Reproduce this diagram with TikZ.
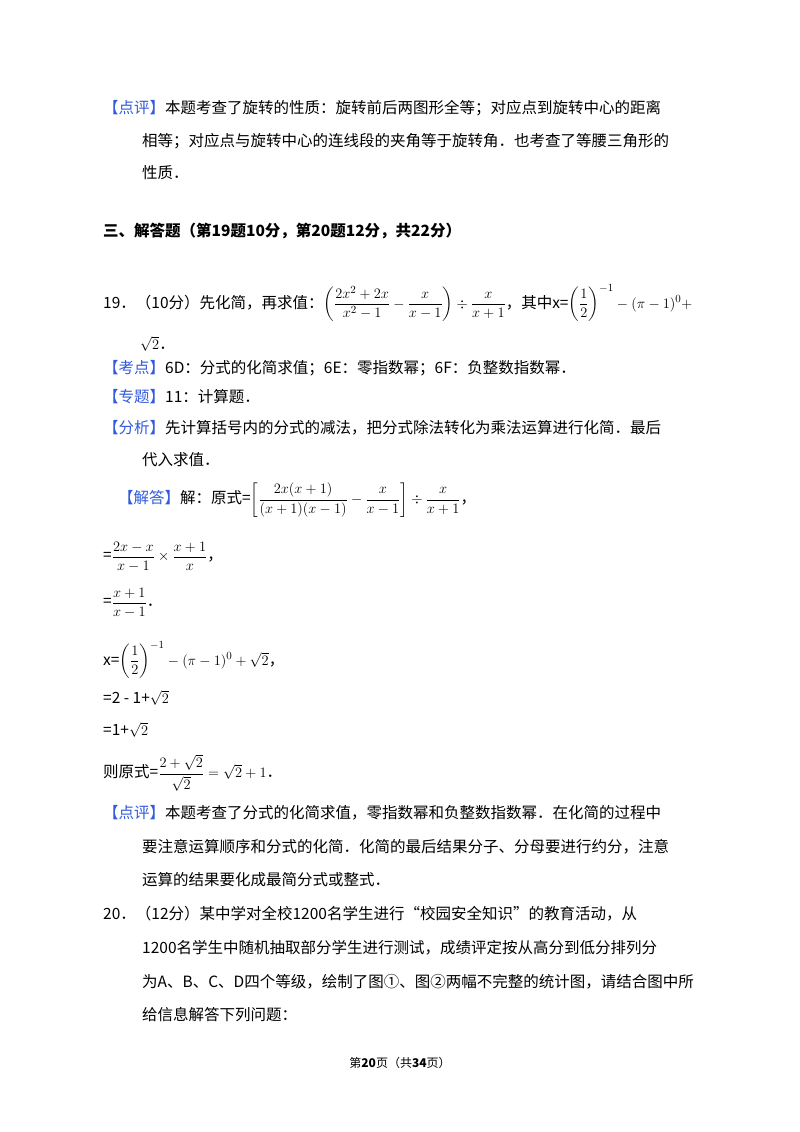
\documentclass[tikz,border=0pt]{standalone}
\usepackage{fontspec}
\setmainfont{Noto Sans CJK SC}
\usepackage{amsmath}
\definecolor{kb}{RGB}{50,90,220}
\newcommand{\bk}[1]{\textcolor{kb}{【#1】}}
\begin{document}
\begin{tikzpicture}[x=1pt,y=-1pt,
  t/.style={anchor=west,inner sep=0pt,font=\fontsize{15.5}{16}\selectfont}]
\useasboundingbox (0,0) rectangle (800,1132);
\fill[white] (0,0) rectangle (800,1132);
\node[t] (a1) at (103,108) {\bk{点评}本题考查了旋转的性质：旋转前后两图形全等；对应点到旋转中心的距离};
\node[t] (a2) at (142,141) {相等；对应点与旋转中心的连线段的夹角等于旋转角．也考查了等腰三角形的};
\node[t] (a3) at (142,173) {性质．};
\node[t,font=\fontsize{15.5}{16}\selectfont\bfseries] (h) at (103,231) {三、解答题（第19题10分，第20题12分，共22分）};
\node[t] (q19) at (103,303) {19．（10分）先化简，再求值：$\left(\dfrac{2x^2+2x}{x^2-1}-\dfrac{x}{x-1}\right)\div\dfrac{x}{x+1}$，其中x=$\left(\dfrac12\right)^{-1}-(\pi-1)^0+$};
\node[t] (q19b) at (140,344) {$\sqrt2$．};
\node[t] (k) at (103,368) {\bk{考点}6D：分式的化简求值；6E：零指数幂；6F：负整数指数幂．};
\node[t] (z) at (103,397) {\bk{专题}11：计算题．};
\node[t] (f1) at (103,428) {\bk{分析}先计算括号内的分式的减法，把分式除法转化为乘法运算进行化简．最后};
\node[t] (f2) at (142,460) {代入求值．};
\node[t] (j1) at (118,500) {\bk{解答}解：原式=$\left[\dfrac{2x(x+1)}{(x+1)(x-1)}-\dfrac{x}{x-1}\right]\div\dfrac{x}{x+1}$，};
\node[t] (j2) at (103,557) {=$\dfrac{2x-x}{x-1}\times\dfrac{x+1}{x}$，};
\node[t] (j3) at (103,603) {=$\dfrac{x+1}{x-1}$．};
\node[t] (j4) at (103,660) {x=$\left(\dfrac12\right)^{-1}-(\pi-1)^0+\sqrt2$，};
\node[t] (j5) at (103,698) {=2 - 1+$\sqrt2$};
\node[t] (j6) at (103,730) {=1+$\sqrt2$};
\node[t] (j7) at (103,773) {则原式=$\dfrac{2+\sqrt2}{\sqrt2}=\sqrt2+1$．};
\node[t] (p1) at (103,813) {\bk{点评}本题考查了分式的化简求值，零指数幂和负整数指数幂．在化简的过程中};
\node[t] (p2) at (142,847) {要注意运算顺序和分式的化简．化简的最后结果分子、分母要进行约分，注意};
\node[t] (p3) at (142,880) {运算的结果要化成最简分式或整式．};
\node[t] (q1) at (103,914) {20．（12分）某中学对全校1200名学生进行“校园安全知识”的教育活动，从};
\node[t] (q2) at (142,948) {1200名学生中随机抽取部分学生进行测试，成绩评定按从高分到低分排列分};
\node[t] (q3) at (142,982) {为A、B、C、D四个等级，绘制了图①、图②两幅不完整的统计图，请结合图中所};
\node[t] (q4) at (142,1015) {给信息解答下列问题：};
\node[anchor=center,inner sep=0pt,font=\fontsize{12}{12}\selectfont] (ft) at (400,1063) {第\textbf{20}页（共\textbf{34}页）};
\end{tikzpicture}
\end{document}
